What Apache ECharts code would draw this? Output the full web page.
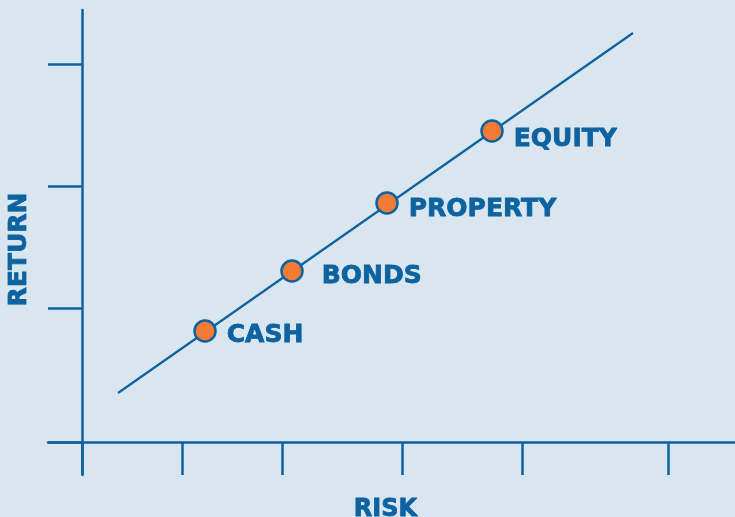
<!DOCTYPE html>
<html>
<head>
<meta charset="utf-8">
<style>
  html, body { margin: 0; padding: 0; background: #d9e6ef; }
  #chart { width: 735px; height: 517px; }
</style>
<script src="https://cdn.jsdelivr.net/npm/echarts@6/dist/echarts.min.js"></script>
</head>
<body>
<div id="chart"></div>
<script>
// asset classes along the risk / return line
const assets = ['CASH', 'BONDS', 'PROPERTY', 'EQUITY']
const assetRisk = [12.3, 21.0, 30.5, 41.0]
const assetReturn = [11.1, 17.1, 23.9, 31.1]

// the trend line, start and end
const lineRisk = [3.6, 55.1]
const lineReturn = [4.9, 40.9]

// tick marks (no labels on them)
const riskTicks = [0, 10, 20, 32, 44, 58.6]
const returnTicks = [0, 13.4, 25.6, 37.8]

const blue = '#0d62a0'
const orange = '#f37b34'
const font = 'DejaVu Sans'

// label nudges, BONDS sits a bit further out
const labelOffsets = [[0, 4], [8, 5], [0, 6], [0, 8]]

// bold text, thickened a little with a stroke of the same colour
const boldText = (size) => ({
  color: blue,
  fontFamily: font,
  fontWeight: 'bold',
  fontSize: size,
  textBorderColor: blue,
  textBorderWidth: 0.8
})

const chart = echarts.init(document.getElementById('chart'))

chart.setOption({
  backgroundColor: '#d9e6ef',
  animation: false,
  grid: {
    left: 48,
    right: 0,
    top: 10,
    bottom: 42,
    outerBoundsMode: 'none'
  },
  xAxis: {
    type: 'value',
    min: -3.4,
    max: 65.3,
    name: 'RISK',
    nameLocation: 'middle',
    nameGap: 23,
    nameTextStyle: Object.assign(boldText(24), { padding: [0, 12, 0, 0] }),
    axisLine: { onZero: true, lineStyle: { color: blue, width: 2.5 } },
    axisTick: {
      show: true,
      length: 33,
      customValues: riskTicks,
      lineStyle: { color: blue, width: 2.5 }
    },
    axisLabel: { show: false },
    splitLine: { show: false }
  },
  yAxis: {
    type: 'value',
    min: -3.3,
    max: 43.2,
    name: 'RETURN',
    nameLocation: 'middle',
    nameGap: 16,
    nameTextStyle: Object.assign(boldText(25), { padding: [0, 14, 0, 0] }),
    axisLine: { show: true, onZero: true, lineStyle: { color: blue, width: 2.5 } },
    axisTick: {
      show: true,
      length: 34,
      customValues: returnTicks,
      lineStyle: { color: blue, width: 2.5 }
    },
    axisLabel: { show: false },
    splitLine: { show: false }
  },
  series: [
    {
      type: 'line',
      data: lineRisk.map((x, i) => [x, lineReturn[i]]),
      symbol: 'none',
      lineStyle: { color: blue, width: 2.2 },
      z: 2
    },
    {
      type: 'scatter',
      data: assets.map((name, i) => ({
        name: name,
        value: [assetRisk[i], assetReturn[i]],
        label: { offset: labelOffsets[i] }
      })),
      symbolSize: 21,
      itemStyle: { color: orange, borderColor: blue, borderWidth: 2.5, opacity: 1 },
      label: Object.assign(boldText(25), {
        show: true,
        position: 'right',
        distance: 10,
        formatter: '{b}'
      }),
      z: 3
    }
  ]
})
</script>
</body>
</html>
